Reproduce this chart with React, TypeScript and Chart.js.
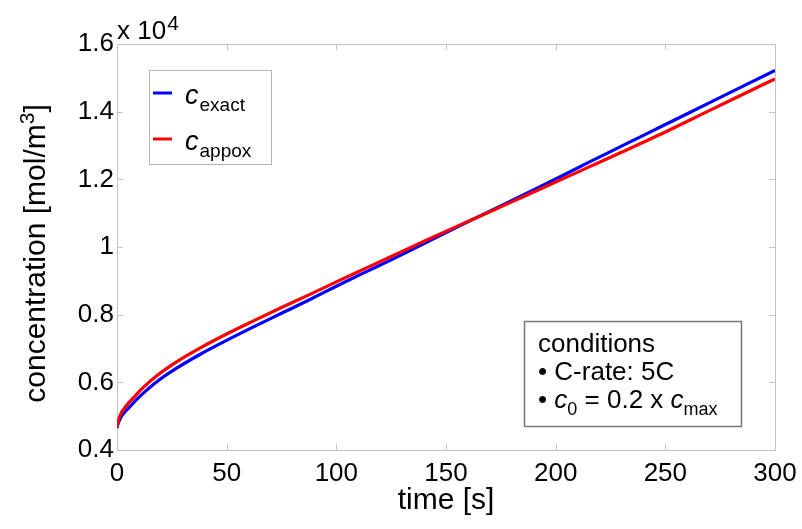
import React, { useEffect, useRef } from "react";
import { Chart, registerables } from "chart.js";

Chart.register(...registerables);

// time [s]
const timeS = [0, 0.5, 1, 2, 3, 5, 8, 12, 18, 27, 38, 50, 62, 75, 88, 100, 112, 125, 140, 156, 170, 185, 200, 215, 230, 250, 270, 285, 300];
// concentration, in units of 10^4 mol/m^3
const cExact = [0.465, 0.478, 0.486, 0.499, 0.508, 0.522, 0.543, 0.568, 0.601, 0.641, 0.683, 0.724, 0.763, 0.804, 0.845, 0.884, 0.922, 0.962, 1.01, 1.062, 1.106, 1.153, 1.201, 1.25, 1.298, 1.362, 1.426, 1.474, 1.522];
const cApprox = [0.465, 0.485, 0.495, 0.51, 0.52, 0.537, 0.558, 0.585, 0.619, 0.66, 0.702, 0.743, 0.781, 0.821, 0.86, 0.897, 0.933, 0.972, 1.017, 1.064, 1.104, 1.148, 1.192, 1.236, 1.28, 1.34, 1.403, 1.45, 1.497];

const xTickValues = [0, 50, 100, 150, 200, 250, 300];
const xTickLabels = ["0", "50", "100", "150", "200", "250", "300"];
const yTickValues = [0.4, 0.6, 0.8, 1.0, 1.2, 1.4, 1.6];
const yTickLabels = ["0.4", "0.6", "0.8", "1", "1.2", "1.4", "1.6"];

const seriesNames = [
  { main: "c", sub: "exact", color: "#0000ff" },
  { main: "c", sub: "appox", color: "#ff0000" },
];
const conditionsTitle = "conditions";
const conditionLine1 = "\u2022 C-rate: 5C";

const FONT = "'Liberation Sans', Arial, sans-serif";

type Part = { t: string; size: number; italic?: boolean; dy?: number };

function drawRich(ctx: CanvasRenderingContext2D, x: number, y: number, parts: Part[], measureOnly = false): number {
  let cx = x;
  for (const p of parts) {
    ctx.font = `${p.italic ? "italic " : ""}${p.size}px ${FONT}`;
    if (!measureOnly) ctx.fillText(p.t, cx, y + (p.dy || 0));
    cx += ctx.measureText(p.t).width;
  }
  return cx - x;
}

const decorPlugin = {
  id: "decor",
  beforeDatasetsDraw(chart: any) {
    const { ctx, chartArea: a, scales } = chart;
    ctx.save();
    ctx.strokeStyle = "#c4c4c4";
    ctx.lineWidth = 1;
    ctx.strokeRect(Math.round(a.left) + 0.5, Math.round(a.top) + 0.5, Math.round(a.right - a.left), Math.round(a.bottom - a.top));
    const tl = 6;
    ctx.beginPath();
    for (const v of xTickValues) {
      const px = Math.round(scales.x.getPixelForValue(v)) + 0.5;
      ctx.moveTo(px, a.bottom);
      ctx.lineTo(px, a.bottom - tl);
      ctx.moveTo(px, a.top);
      ctx.lineTo(px, a.top + tl);
    }
    for (const v of yTickValues) {
      const py = Math.round(scales.y.getPixelForValue(v)) + 0.5;
      ctx.moveTo(a.left, py);
      ctx.lineTo(a.left + tl, py);
      ctx.moveTo(a.right, py);
      ctx.lineTo(a.right - tl, py);
    }
    ctx.stroke();
    ctx.restore();
  },
  afterDraw(chart: any) {
    const { ctx, chartArea: a } = chart;
    ctx.save();
    ctx.fillStyle = "#000";
    ctx.textBaseline = "alphabetic";
    ctx.textAlign = "left";

    // exponent label
    const w1 = drawRich(ctx, a.left, 39, [{ t: "x 10", size: 26 }]);
    drawRich(ctx, a.left + w1 + 1, 30, [{ t: "4", size: 21 }]);

    // x title
    ctx.font = `30px ${FONT}`;
    ctx.textAlign = "center";
    ctx.fillText("time [s]", (a.left + a.right) / 2, 509);
    ctx.textAlign = "left";

    // y title (rotated)
    const yParts: Part[] = [
      { t: "concentration [mol/m", size: 30 },
      { t: "3", size: 21, dy: -11 },
      { t: "]", size: 30 },
    ];
    const yw = drawRich(ctx, 0, 0, yParts, true);
    ctx.save();
    ctx.translate(45, 253.5);
    ctx.rotate(-Math.PI / 2);
    drawRich(ctx, -yw / 2, 0, yParts);
    ctx.restore();

    // legend
    ctx.fillStyle = "#fff";
    ctx.fillRect(149.5, 70.5, 122, 94);
    ctx.strokeStyle = "#b4b4b4";
    ctx.lineWidth = 1;
    ctx.strokeRect(149.5, 70.5, 122, 94);
    seriesNames.forEach((s, i) => {
      const ly = 93 + i * 46;
      ctx.strokeStyle = s.color;
      ctx.lineWidth = 3;
      ctx.beginPath();
      ctx.moveTo(153, ly);
      ctx.lineTo(172, ly);
      ctx.stroke();
      ctx.fillStyle = "#000";
      const cw = drawRich(ctx, 185, ly + 10.5, [{ t: s.main, size: 27, italic: true }]);
      drawRich(ctx, 185 + cw + 1, ly + 17.5, [{ t: s.sub, size: 19 }]);
    });

    // conditions box
    ctx.fillStyle = "#fff";
    ctx.fillRect(524.5, 321.5, 217, 105);
    ctx.strokeStyle = "#787878";
    ctx.lineWidth = 1.5;
    ctx.strokeRect(524.5, 321.5, 217, 105);
    ctx.fillStyle = "#000";
    drawRich(ctx, 538, 352, [{ t: conditionsTitle, size: 26 }]);
    drawRich(ctx, 538, 380, [{ t: conditionLine1, size: 26 }]);
    drawRich(ctx, 538, 408, [
      { t: "\u2022 ", size: 26 },
      { t: "c", size: 26, italic: true },
      { t: "0", size: 18, dy: 7 },
      { t: " = 0.2 x ", size: 26 },
      { t: "c", size: 26, italic: true },
      { t: "max", size: 18, dy: 7 },
    ]);
    ctx.restore();
  },
};

export default function App() {
  const ref = useRef<HTMLCanvasElement | null>(null);
  useEffect(() => {
    if (!ref.current) return;
    const chart = new Chart(ref.current, {
      type: "line",
      data: {
        datasets: [
          {
            label: "c_exact",
            data: timeS.map((t, i) => ({ x: t, y: cExact[i] })),
            borderColor: "#0000ff",
            backgroundColor: "#0000ff",
            borderWidth: 3.2,
            pointRadius: 0,
            cubicInterpolationMode: "monotone",
            order: 1,
          },
          {
            label: "c_appox",
            data: timeS.map((t, i) => ({ x: t, y: cApprox[i] })),
            borderColor: "#ff0000",
            backgroundColor: "#ff0000",
            borderWidth: 3.2,
            pointRadius: 0,
            cubicInterpolationMode: "monotone",
            order: 0,
          },
        ],
      },
      options: {
        responsive: false,
        animation: false,
        events: [],
        layout: { padding: { top: 44, right: 27, left: 0, bottom: 0 } },
        plugins: { legend: { display: false }, tooltip: { enabled: false } },
        scales: {
          x: {
            type: "linear",
            min: 0,
            max: 300,
            afterBuildTicks: (s: any) => {
              s.ticks = xTickValues.map((v) => ({ value: v }));
            },
            afterFit: (s: any) => {
              s.height = 79;
              s.paddingRight = 0;
              s.paddingLeft = 0;
            },
            grid: { display: false, drawTicks: false },
            border: { display: false },
            ticks: {
              padding: 8,
              color: "#000",
              maxRotation: 0,
              font: { family: FONT, size: 26 },
              callback: (_v: any, i: number) => xTickLabels[i],
            },
          },
          y: {
            type: "linear",
            min: 0.4,
            max: 1.6,
            afterBuildTicks: (s: any) => {
              s.ticks = yTickValues.map((v) => ({ value: v }));
            },
            afterFit: (s: any) => {
              s.width = 117;
              s.paddingTop = 0;
              s.paddingBottom = 0;
            },
            grid: { display: false, drawTicks: false },
            border: { display: false },
            ticks: {
              padding: 3,
              color: "#000",
              font: { family: FONT, size: 26 },
              callback: (_v: any, i: number) => yTickLabels[i],
            },
          },
        },
      },
      plugins: [decorPlugin],
    } as any);
    return () => chart.destroy();
  }, []);
  return (
    <div style={{ position: "fixed", left: 0, top: 0, width: 802, height: 529, background: "#fff" }}>
      <canvas ref={ref} width={802} height={529} style={{ display: "block" }} />
    </div>
  );
}
